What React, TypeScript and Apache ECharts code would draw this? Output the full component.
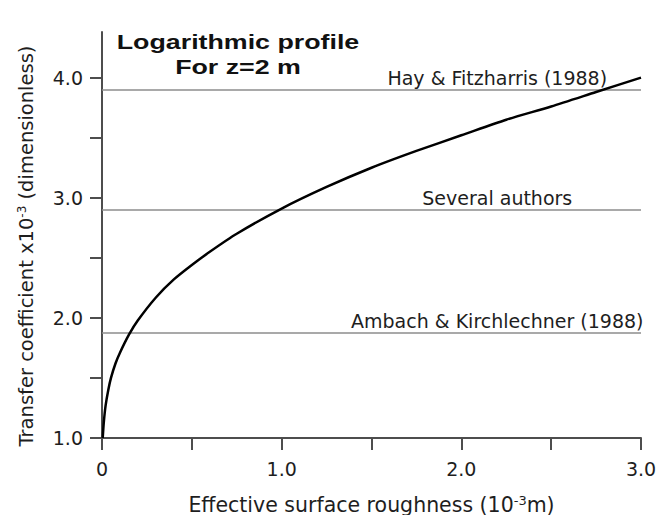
import React, { useEffect, useRef } from "react";
import * as echarts from "echarts";

// Effective surface roughness (10^-3 m) and transfer coefficient (x10^-3)
const roughness = [0.004, 0.01, 0.02, 0.035, 0.05, 0.075, 0.1, 0.15, 0.2, 0.3, 0.4, 0.5, 0.6, 0.75, 1.0, 1.25, 1.5, 1.75, 2.0, 2.25, 2.5, 2.75, 3.0];
const transferCoeff = [1.0, 1.13, 1.27, 1.4, 1.5, 1.62, 1.71, 1.86, 1.98, 2.17, 2.32, 2.44, 2.55, 2.7, 2.91, 3.09, 3.25, 3.39, 3.52, 3.65, 3.76, 3.88, 4.0];

// Reference values from literature
const refNames = ["Hay & Fitzharris (1988)", "Several authors", "Ambach & Kirchlechner (1988)"];
const refValues = [3.9, 2.9, 1.88];

// Axis ticks / labels
const xTickValues = [0, 0.5, 1, 1.5, 2, 2.5, 3];
const xLabelValues = [0, 1, 2, 3];
const yTickValues = [1, 1.5, 2, 2.5, 3, 3.5, 4];
const yLabelValues = [1, 2, 3, 4];

const titleLines = ["Logarithmic profile", "For z=2 m"];

const FONT = '"DejaVu Sans", sans-serif';
const LABEL_X = 2.2;
const AXIS_COLOR = "#4d4d4d";
const TEXT_COLOR = "#1e1e1e";

export default function App() {
  const ref = useRef<HTMLDivElement>(null);

  useEffect(() => {
    const chart = echarts.init(ref.current!, null, { renderer: "svg" });
    const fmt = (v: number) => (v === 0 ? "0" : v.toFixed(1));
    const supStyle = { fontSize: 12, verticalAlign: "top", fontFamily: FONT, color: TEXT_COLOR };

    chart.setOption({
      animation: false,
      backgroundColor: "#ffffff",
      grid: { left: 102, right: 21, top: 32, bottom: 77, outerBoundsMode: "none" },
      xAxis: {
        type: "value",
        min: 0,
        max: 3,
        axisLine: { show: true, onZero: false, lineStyle: { color: AXIS_COLOR, width: 2 } },
        axisTick: { show: true, length: 12, customValues: xTickValues, lineStyle: { color: AXIS_COLOR, width: 2 } },
        axisLabel: { customValues: xLabelValues, formatter: fmt, margin: 21, color: TEXT_COLOR, fontFamily: FONT, fontSize: 19 },
        splitLine: { show: false },
        name: "Effective surface roughness (10{sup|-3}m)",
        nameLocation: "middle",
        nameGap: 56,
        nameTextStyle: {
          color: TEXT_COLOR,
          fontFamily: FONT,
          fontSize: 20.5,
          rich: { sup: { ...supStyle, fontSize: 13 } },
        },
      },
      yAxis: {
        type: "value",
        min: 1,
        max: 4.38,
        axisLine: { show: true, lineStyle: { color: AXIS_COLOR, width: 2 } },
        axisTick: { show: true, length: 12, customValues: yTickValues, lineStyle: { color: AXIS_COLOR, width: 2 } },
        axisLabel: { customValues: yLabelValues, formatter: fmt, margin: 19, color: TEXT_COLOR, fontFamily: FONT, fontSize: 19 },
        splitLine: { show: false },
        name: "Transfer coefficient x10{sup|-3} (dimensionless)",
        nameLocation: "middle",
        nameGap: 66,
        nameRotate: 90,
        nameTextStyle: {
          color: TEXT_COLOR,
          fontFamily: FONT,
          fontSize: 19.5,
          padding: [0, 22, 0, 0],
          rich: { sup: supStyle },
        },
      },
      graphic: [
        {
          type: "text",
          x: 238,
          y: 30,
          scaleX: 1.34,
          silent: true,
          style: {
            text: titleLines.join("\n"),
            fontFamily: '"Liberation Sans", Arial, sans-serif',
            fontWeight: "bold",
            fontSize: 20,
            lineHeight: 24.5,
            align: "center",
            verticalAlign: "top",
            fill: "#111111",
          },
        },
      ],
      series: [
        {
          type: "line",
          data: roughness.map((x, i) => [x, transferCoeff[i]]),
          showSymbol: false,
          symbol: "none",
          smooth: 0.25,
          z: 5,
          lineStyle: { color: "#000000", width: 2.5 },
          markLine: {
            silent: true,
            symbol: "none",
            label: { show: false },
            lineStyle: { color: "#8c8c8c", width: 1.5, type: "solid" },
            data: refValues.map((v) => ({ yAxis: v })),
            z: 2,
          },
          markPoint: {
            silent: true,
            symbol: "circle",
            symbolSize: 0,
            label: {
              show: true,
              position: "top",
              distance: 2,
              formatter: "{b}",
              color: TEXT_COLOR,
              fontFamily: FONT,
              fontSize: 19,
            },
            data: refValues.map((v, i) => ({ coord: [LABEL_X, v], name: refNames[i] })),
          },
        },
      ],
    });

    return () => chart.dispose();
  }, []);

  return (
    <div
      ref={ref}
      style={{ position: "fixed", left: 0, top: 0, width: 662, height: 515, background: "#fff" }}
    />
  );
}
